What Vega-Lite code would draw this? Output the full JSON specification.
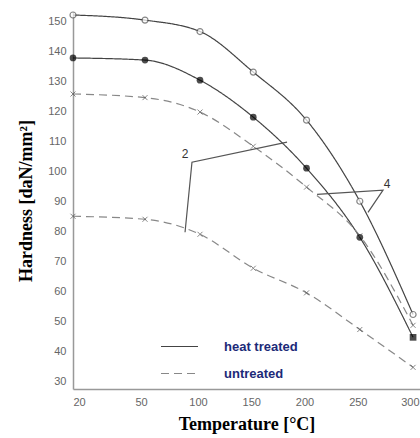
{
  "$schema": "https://vega.github.io/schema/vega-lite/v6.json",
  "autosize": {"type": "none"},
  "padding": {"left": 73, "top": 12, "right": 0, "bottom": 49},
  "width": 347,
  "height": 377,
  "background": "white",
  "config": {
    "view": {"stroke": null},
    "axis": {"grid": false, "ticks": false, "domainColor": "#999999", "domainWidth": 1.5, "labelColor": "#666666", "labelFont": "Liberation Sans", "labelFontSize": 11, "titleFont": "Liberation Serif", "titleFontWeight": "bold", "titleFontSize": 18, "titleColor": "#000000"}
  },
  "datasets": {
    "curves": [
      {"T": 20, "hardness": 152, "series": "A", "treatment": "heat treated"},
      {"T": 50, "hardness": 150.3, "series": "A", "treatment": "heat treated"},
      {"T": 100, "hardness": 146.5, "series": "A", "treatment": "heat treated"},
      {"T": 150, "hardness": 133, "series": "A", "treatment": "heat treated"},
      {"T": 200, "hardness": 117, "series": "A", "treatment": "heat treated"},
      {"T": 250, "hardness": 90, "series": "A", "treatment": "heat treated"},
      {"T": 300, "hardness": 52.3, "series": "A", "treatment": "heat treated"},
      {"T": 20, "hardness": 137.7, "series": "B", "treatment": "heat treated"},
      {"T": 50, "hardness": 137, "series": "B", "treatment": "heat treated"},
      {"T": 100, "hardness": 130.3, "series": "B", "treatment": "heat treated"},
      {"T": 150, "hardness": 118, "series": "B", "treatment": "heat treated"},
      {"T": 200, "hardness": 101, "series": "B", "treatment": "heat treated"},
      {"T": 250, "hardness": 78, "series": "B", "treatment": "heat treated"},
      {"T": 300, "hardness": 44.7, "series": "B", "treatment": "heat treated"},
      {"T": 20, "hardness": 125.7, "series": "C", "treatment": "untreated"},
      {"T": 50, "hardness": 124.5, "series": "C", "treatment": "untreated"},
      {"T": 100, "hardness": 119.7, "series": "C", "treatment": "untreated"},
      {"T": 150, "hardness": 108.3, "series": "C", "treatment": "untreated"},
      {"T": 200, "hardness": 94.7, "series": "C", "treatment": "untreated"},
      {"T": 250, "hardness": 78.5, "series": "C", "treatment": "untreated"},
      {"T": 300, "hardness": 48.7, "series": "C", "treatment": "untreated"},
      {"T": 20, "hardness": 85, "series": "D", "treatment": "untreated"},
      {"T": 50, "hardness": 84, "series": "D", "treatment": "untreated"},
      {"T": 100, "hardness": 79, "series": "D", "treatment": "untreated"},
      {"T": 150, "hardness": 67.7, "series": "D", "treatment": "untreated"},
      {"T": 200, "hardness": 59.5, "series": "D", "treatment": "untreated"},
      {"T": 250, "hardness": 47.3, "series": "D", "treatment": "untreated"},
      {"T": 300, "hardness": 34.7, "series": "D", "treatment": "untreated"}
    ],
    "pointers": [
      {"id": "2", "ord": 1, "T": 86.4, "hardness": 79.7},
      {"id": "2", "ord": 2, "T": 92.7, "hardness": 103},
      {"id": "2", "ord": 3, "T": 181.7, "hardness": 109.7},
      {"id": "4", "ord": 1, "T": 209.9, "hardness": 92.3},
      {"id": "4", "ord": 2, "T": 271.8, "hardness": 93.7},
      {"id": "4", "ord": 3, "T": 257.7, "hardness": 86.3}
    ],
    "labels": [
      {"label": "2", "T": 86.4, "hardness": 105.7},
      {"label": "4", "T": 275.6, "hardness": 95.7}
    ]
  },
  "encoding": {
    "x": {"field": "T", "type": "quantitative", "scale": {"domain": [20, 50, 100, 306.5], "range": [0, 72, 127, 347], "nice": false, "zero": false},
      "axis": {"values": [20, 50, 100, 150, 200, 250, 300], "labelPadding": 7,
        "labelAlign": {"expr": "datum.value == 300 ? 'right' : datum.value == 20 ? 'left' : 'center'"},
        "labelOffset": {"expr": "datum.value == 300 ? 6 : datum.value == 50 ? -4 : datum.value == 20 ? 0 : -2"},
        "title": "Temperature [°C]", "titlePadding": 8}},
    "y": {"field": "hardness", "type": "quantitative", "scale": {"domain": [27.5, 153], "nice": false, "zero": false},
      "axis": {"values": [30, 40, 50, 60, 70, 80, 90, 100, 110, 120, 130, 140, 150], "labelPadding": 7, "title": "Hardness [daN/mm²]", "titlePadding": 12}}
  },
  "layer": [
    {
      "data": {"name": "curves"},
      "mark": {"type": "line", "interpolate": "monotone", "strokeWidth": 1.2},
      "encoding": {
        "detail": {"field": "series"},
        "color": {"field": "treatment", "type": "nominal", "scale": {"domain": ["heat treated", "untreated"], "range": ["#444444", "#888888"]},
          "legend": {"title": null, "orient": "none", "legendX": 87, "legendY": 315, "symbolType": "stroke", "symbolSize": 1369, "symbolStrokeWidth": 1.2, "labelOffset": 25, "labelFont": "Liberation Sans", "labelFontWeight": "bold", "labelFontSize": 13, "labelColor": "#1c2a78", "rowPadding": -13}},
        "strokeDash": {"field": "treatment", "type": "nominal", "scale": {"domain": ["heat treated", "untreated"], "range": [[1, 0], [8, 5]]},
          "legend": {"title": null, "orient": "none", "legendX": 87, "legendY": 315, "symbolType": "stroke", "symbolSize": 1369, "symbolStrokeWidth": 1.2, "labelOffset": 25, "labelFont": "Liberation Sans", "labelFontWeight": "bold", "labelFontSize": 13, "labelColor": "#1c2a78", "rowPadding": -13}}
      }
    },
    {
      "data": {"name": "curves"},
      "transform": [{"filter": "datum.series == 'A'"}],
      "mark": {"type": "point", "shape": "circle", "filled": true, "fill": "white", "stroke": "#555555", "strokeWidth": 1.2, "size": 36}
    },
    {
      "data": {"name": "curves"},
      "transform": [{"filter": "datum.series == 'B'"}],
      "mark": {"type": "point", "filled": true, "color": "#000000", "size": 45},
      "encoding": {
        "shape": {"condition": {"test": "datum.T == 300", "value": "square"}, "value": "circle"}
      }
    },
    {
      "data": {"name": "curves"},
      "transform": [{"filter": "datum.series == 'C' || datum.series == 'D'"}],
      "mark": {"type": "point", "shape": "M-1,-1L1,1M-1,1L1,-1", "filled": false, "stroke": "#555555", "strokeWidth": 1, "size": 25}
    },
    {
      "data": {"name": "pointers"},
      "mark": {"type": "line", "color": "#555555", "strokeWidth": 1.2},
      "encoding": {"detail": {"field": "id"}, "order": {"field": "ord"}}
    },
    {
      "data": {"name": "labels"},
      "mark": {"type": "text", "font": "Liberation Sans", "fontSize": 12, "color": "#333333", "align": "center", "baseline": "middle"},
      "encoding": {"text": {"field": "label"}}
    }
  ]
}
